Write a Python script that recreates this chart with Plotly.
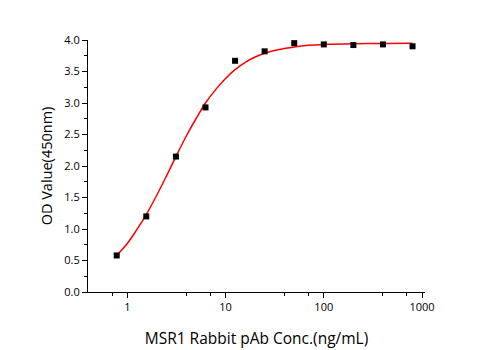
import plotly.graph_objects as go

conc = [0.78, 1.56, 3.125, 6.25, 12.5, 25, 50, 100, 200, 400, 800]
od = [0.58, 1.20, 2.15, 2.93, 3.67, 3.82, 3.95, 3.93, 3.92, 3.93, 3.90]

curve_x = [0.78, 1.0, 1.25, 1.56, 2.0, 2.5, 3.125, 4, 5, 6.25, 8, 10, 12.5, 16, 20, 25, 35, 50, 70, 100, 200, 400, 800]
curve_y = [0.58, 0.77, 0.99, 1.23, 1.54, 1.84, 2.15, 2.48, 2.75, 3.00, 3.22, 3.39, 3.53, 3.65, 3.73, 3.79, 3.85, 3.89, 3.915, 3.928, 3.94, 3.945, 3.948]

x_major = [1, 10, 100, 1000]
x_minor = [0.7, 4, 7, 40, 70, 400, 700]

fig = go.Figure()
fig.add_trace(go.Scatter(x=curve_x, y=curve_y, mode="lines", line=dict(color="#ff0000", width=1.5, shape="spline"), showlegend=False))
fig.add_trace(go.Scatter(x=conc, y=od, mode="markers", marker=dict(symbol="square", size=6, color="black"), showlegend=False))

font = "Open Sans"
fig.update_layout(
    width=495, height=350,
    margin=dict(l=88, r=70, t=40, b=58),
    paper_bgcolor="white", plot_bgcolor="white",
    font=dict(family=font, color="black"),
    xaxis=dict(type="log", range=[-0.40, 3.03], showgrid=False, zeroline=False, automargin=False,
               showline=True, linecolor="black", linewidth=1,
               tickmode="array", tickvals=x_major, ticktext=[str(v) for v in x_major],
               ticks="outside", ticklen=5, tickcolor="black", tickfont=dict(size=11),
               minor=dict(tickmode="array", tickvals=x_minor, ticks="outside", ticklen=3, tickcolor="black"),
               title=dict(text="MSR1 Rabbit pAb Conc.(ng/mL)", font=dict(size=15.5), standoff=19)),
    yaxis=dict(range=[0, 4.0], showgrid=False, zeroline=False, automargin=False,
               showline=True, linecolor="black", linewidth=1,
               tickmode="linear", tick0=0, dtick=0.5, tickformat=".1f",
               ticks="outside", ticklen=5, tickcolor="black", tickfont=dict(size=11),
               minor=dict(dtick=0.25, ticks="outside", ticklen=3, tickcolor="black"),
               title=dict(text="OD Value(450nm)", font=dict(size=14.5), standoff=8)),
)
fig.write_html("out.html")
